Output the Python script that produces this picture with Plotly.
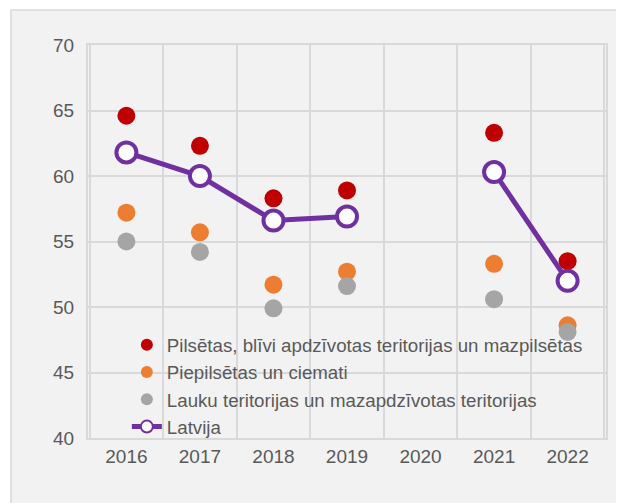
import plotly.graph_objects as go

# Data
years = ["2016", "2017", "2018", "2019", "2020", "2021", "2022"]
pilsetas = [64.6, 62.3, 58.3, 58.9, None, 63.3, 53.5]
piepilsetas = [57.2, 55.7, 51.7, 52.7, None, 53.3, 48.6]
lauku = [55.0, 54.2, 49.9, 51.6, None, 50.6, 48.1]
latvija = [61.8, 60.0, 56.6, 56.9, None, 60.3, 52.0]

names = [
    "Pilsētas, blīvi apdzīvotas teritorijas un mazpilsētas",
    "Piepilsētas un ciemati",
    "Lauku teritorijas un mazapdzīvotas teritorijas",
    "Latvija",
]
colors = ["#C00000", "#ED7D31", "#A5A5A5", "#7030A0"]

TEXT = "#595959"
GRID = "#D9D9D9"
FONT = "Liberation Sans, Arial, sans-serif"

fig = go.Figure()

for vals, name, col in zip([pilsetas, piepilsetas, lauku], names[:3], colors[:3]):
    fig.add_trace(go.Scatter(
        x=years, y=vals, name=name, mode="markers",
        marker=dict(size=18, color=col),
    ))

fig.add_trace(go.Scatter(
    x=years, y=latvija, name=names[3], mode="lines+markers",
    line=dict(color=colors[3], width=5),
    marker=dict(size=20, color="white", line=dict(color=colors[3], width=4)),
    connectgaps=False,
))

# grey card behind the chart
fig.add_shape(
    type="rect", xref="paper", yref="paper",
    x0=-0.1486, x1=1.08, y0=-0.3, y1=1.089,
    fillcolor="#F2F2F2", line=dict(color=GRID, width=1.5), layer="below",
)

fig.update_layout(
    width=624, height=503,
    margin=dict(l=80, r=26, t=37, b=73),
    paper_bgcolor="white",
    plot_bgcolor="rgba(0,0,0,0)",
    font=dict(family=FONT, size=18, color=TEXT),
    showlegend=True,
    legend=dict(
        x=0.075, y=0.285, xanchor="left", yanchor="top",
        bgcolor="rgba(0,0,0,0)", font=dict(size=18.7, color=TEXT),
        tracegroupgap=0, itemsizing="constant",
    ),
    xaxis=dict(
        type="category", categoryorder="array", categoryarray=years,
        tickson="boundaries", showgrid=True, gridcolor=GRID, gridwidth=2,
        showline=True, linecolor=GRID, linewidth=2, mirror=True,
        ticks="outside", ticklen=16, tickcolor="rgba(0,0,0,0)",
        tickfont=dict(size=19, color=TEXT), zeroline=False,
    ),
    yaxis=dict(
        range=[40, 70], dtick=5, showgrid=True, gridcolor=GRID, gridwidth=2,
        showline=True, linecolor=GRID, linewidth=2, mirror=True,
        ticks="outside", ticklen=8, tickcolor="rgba(0,0,0,0)",
        tickfont=dict(size=19, color=TEXT), zeroline=False,
    ),
)

fig.write_html("out.html")
